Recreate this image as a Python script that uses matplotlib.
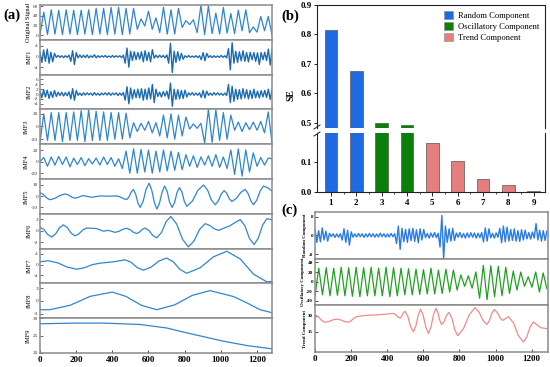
import numpy as np
import matplotlib
matplotlib.use("Agg")
import matplotlib.pyplot as plt
from matplotlib.lines import Line2D
from matplotlib.patches import Patch

plt.rcParams['font.family'] = ['Liberation Serif', 'DejaVu Serif']
plt.rcParams['axes.unicode_minus'] = False

n_samples = 1284

# ---- (a) original signal and IMFs ----
# fast oscillations, read at every peak / trough (about 21 samples apart)
original = [1, 48, 1, 53, 2, 52, 1, 53, 2, 52, 1, 52, 2, 53, 1, 56, 2, 56, 1, 58, 2, 58,
            1, 56, 2, 56, 12, 34, 19, 50, 12, 36, 5, 58, 2, 53, 2, 56, 16, 30, 22, 32,
            5, 62, 1, 61, 3, 46, 2, 58, 4, 45, 3, 52, 9, 53, 5, 17, 6, 39, 9, 39, 0]
imf3 = [-25, 20, -22, 22, -22, 22, -24, 22, -22, 23, -22, 25, -24, 26, -22, 24, -22, 23,
        -22, 22, -20, 22, -20, 21, -18, 6, -8, 5, -6, 8, -10, 6, -15, 18, -18, 20, -20,
        18, -15, 15, -4, 4, -3, 5, -26, 27, -25, 26, -22, 22, -20, 18, -6, 7, -8, 6, -5,
        7, -6, 8, -10, 23, -26]
imf4 = [0, 7, -8, 8, -6, 9, -5, 8, -9, 6, -5, 7, -7, 5, -4, 6, -6, 8, -5, 7, -8, 5,
        -12, 18, -20, 22, -20, 21, -18, 20, -20, 18, -18, 20, -16, 18, -15, 16, -14, 12,
        -8, 10, -10, 8, -6, 10, -8, 12, -10, 8, -12, 20, -22, 22, -25, 20, -18, 15,
        -8, 7, -6, 6, 5]

# noisy IMFs, read every 10 samples
imf1 = [1.5, -2.2, 2.5, -1.8, 2.8, -2.5, 1.6, -2.0, 1.2,
        -0.3, 0.4, -0.3, 0.3, -0.4, 0.3, -0.3, 0.5,
        -1.8, 2.2, -3.0, 1.5,
        -0.5, 0.6, -0.4, 0.5, -0.4,
        0.6, -0.5, 0.3, -0.3, 0.7, -0.5, 0.3, -0.3,
        0.3, -0.2, 0.4, -0.3, 0.2, -0.3, 0.4, -0.3, 0.3, -0.2, 0.3, -0.4, 0.5,
        -2.5, 3.2, -4.0, 2.0,
        -1.5, 1.8, -1.2, 1.5, -1.0,
        1.8, -2.0, 2.2, -1.5, 1.6, -2.0, 2.6,
        -0.6, 0.5, -0.4, 0.5, -0.3, 0.4, -0.5, 0.6,
        -2.5, 5.0, -6.0,
        2.0, -2.2, 1.8, -1.5, 1.2, -1.0,
        0.3, -0.3, 0.4, -0.3, 0.2, -0.3, 0.3, -0.4, 0.3,
        -1.2, 1.5, -1.6, 1.2,
        -0.3, 0.3, -0.4, 0.3, -0.3, 0.2, -0.3, 0.4, -0.3, 0.3, -0.5,
        3.0, -5.0, 5.2, -2.5,
        2.0, -2.2, 1.8, -1.6, 2.2, -1.8, 1.5, -2.0, 1.6,
        -1.2, 1.5, -1.8, 1.4, -3.0, 1.5, -1.2, 1.6, -1.5,
        2.8, -3.2, 2.5]
imf2 = [1.2, -1.5, 1.8, -1.2, 1.6, -1.8, 1.0, -1.4, 1.5, -1.0,
        0.8, -0.6, 0.7, -0.8, 0.6, -0.7, 0.9,
        -2.0, 2.2, -2.5, 1.5,
        -0.5, 0.4, -0.6, 0.5, -0.4, 0.5, -0.3, 0.4, -0.5, 0.6, -0.4, 0.3, -0.5, 0.4,
        -0.3, 0.5, -0.4, 0.6, -0.5, 0.4, -0.3, 0.5, -0.6, 0.4, -0.5, 0.6,
        -2.5, 3.0, -4.0, 2.5,
        -2.0, 1.8, -1.5, 2.0, -1.6,
        2.2, -2.5, 2.0, -2.2, 2.5, -2.0, 4.0, -3.5, 2.0,
        -1.0, 0.8, -1.2, 1.0, -0.8, 1.2,
        -2.0, 4.5, -5.0,
        2.0, -2.2, 1.8, -2.0, 1.5, -1.8, 1.6, -1.2,
        0.5, -0.4, 0.6, -0.5, 0.4, -0.5, 0.5,
        -1.4, 1.5, -1.6, 1.2,
        -0.5, 0.4, -0.5, 0.6, -0.4, 0.5, -0.4, 0.3, -0.5, 0.4, -0.6,
        4.0, -3.5, 3.2, -3.0,
        2.0, -2.2, 1.8, -2.0, 2.2, -1.6, 1.8, -2.0, 1.5, -1.8, 2.0,
        -1.5, 1.2, -1.6, 1.4, -1.2, 1.5, -1.4,
        2.0, -2.2, 1.8]

# slow IMFs, read as (sample, value) points
imf5_t = [0, 18, 37, 55, 83, 112, 140, 158, 176, 194, 209, 225, 240, 286, 332, 380, 425,
          443, 462, 480, 492, 505, 517, 529, 542, 554, 571, 587, 604, 618, 633, 647, 661,
          676, 690, 704, 717, 731, 745, 758, 772, 786, 799, 813, 844, 874, 905, 927, 948,
          970, 986, 1003, 1019, 1033, 1048, 1062, 1087, 1111, 1136, 1151, 1167, 1182, 1200,
          1219, 1237, 1260, 1284]
imf5_v = [3.2, 1.6, -1.6, -3.2, -1.9, 0.7, 2.0, 1.05, -0.85, -1.8, -1.2, -0.1, 0.5, -1.0,
          0.2, 0.0, 0.2, -0.6, -2.2, -3.0, -0.75, 3.75, 6.0, 2.0, -6.0, -10.0, -4.6, 6.1,
          11.5, 5.75, -5.75, -11.5, -6.4, 3.9, 9.0, 4.25, -5.25, -10.0, -5.6, 3.2, 7.6,
          3.45, -4.85, -9.0, -4.25, 5.25, 10.0, 5.6, -3.2, -7.6, -4.45, 1.85, 5.0, 2.6,
          -2.3, -4.7, -2.0, 3.3, 6.0, 2.6, -4.2, -7.6, -3.45, 4.85, 9.0, 7.5, 4.7]
imf6_t = [0, 22, 43, 65, 86, 108, 129, 151, 172, 194, 215, 237, 258, 314, 351, 378, 415,
          437, 458, 480, 498, 517, 535, 550, 566, 581, 603, 624, 646, 672, 698, 724, 756,
          789, 821, 852, 883, 914, 939, 963, 988, 1052, 1080, 1108, 1134, 1159, 1185,
          1208, 1232, 1255, 1284]
imf6_v = [0.6, 0.18, -0.68, -1.1, -0.58, 0.48, 1.0, 0.53, -0.43, -0.9, -0.56, 0.11, 0.45,
          0.35, -0.1, 0.05, -0.3, -0.13, 0.23, 0.4, 0.18, -0.28, -0.5, -0.26, 0.21, 0.45,
          0.03, -0.83, -1.25, -0.33, 1.53, 2.45, 1.14, -1.49, -2.8, -1.8, 0.2, 1.2, 0.91,
          0.34, 0.05, 0.85, 1.4, 1.9, 0.83, -1.33, -2.4, -1.29, 0.94, 2.05, 1.9]
imf7_t = [0, 46, 98, 151, 203, 246, 289, 332, 406, 471, 505, 538, 572, 615, 658, 701,
          738, 775, 812, 886, 960, 1034, 1108, 1182, 1255, 1284]
imf7_v = [1.0, 1.4, 0.61, -0.96, -1.75, -1.19, -0.06, 0.5, 1.0, 1.75, 0.79, -1.14, -2.1,
          -0.98, 1.28, 2.4, 0.99, -1.84, -3.25, -1.21, 2.86, 4.9, 2.08, -3.58, -6.4, -6.3]
imf8_t = [0, 55, 167, 278, 400, 475, 561, 646, 744, 843, 941, 1071, 1150, 1218, 1284]
imf8_v = [-2.1, -2.1, -1.05, 1.05, 2.05, 1.05, -1.05, -2.1, -0.98, 1.28, 2.4, 1.0, -0.6,
          -2.1, -2.8]
imf9_t = [0, 200, 350, 554, 700, 803, 1014, 1150, 1284]
imf9_v = [28.4, 28.6, 28.6, 28.2, 27.2, 25.9, 23.4, 22.1, 21.2]

# ---- (b) sample entropy of each IMF ----
imf_ids = [1, 2, 3, 4, 5, 6, 7, 8, 9]
se_values = [0.815, 0.677, 0.499, 0.492, 0.166, 0.105, 0.044, 0.025, 0.003]
se_groups = ['Random', 'Random', 'Oscillatory', 'Oscillatory',
             'Trend', 'Trend', 'Trend', 'Trend', 'Trend']

# ---- (c) reconstructed components ----
random_comp = [2.5, -3.0, 2.0, -2.8, 3.2, -2.0, 1.8, -2.5,
               0.8, -0.6, 0.7, -0.9, 0.6, -0.8, 0.7,
               -2.0, 2.8, -3.0, 2.2, -4.2, 1.5,
               -0.8, 0.6, -0.7, 0.8, -0.6, 0.7, -0.9, 0.6, -0.7, 0.8, -0.6, 0.7,
               -0.8, 0.6, -0.7, 0.9, -0.6, 0.7, -0.8, 0.6, -0.7, 0.8, -0.6, 0.7,
               -3.5, 4.0, -6.0, 3.0,
               -2.8, 2.5, -3.0, 2.8, -2.2, 3.0, -2.6, 2.4, -3.2, 2.8, -2.0, 2.5,
               -1.0, 0.8, -1.2, 1.0, -0.8, 1.2, -1.0, 0.9,
               -5.0, 8.5, -10.0, 4.0,
               -3.0, 2.8, -2.5, 3.0, -2.2,
               1.0, -0.8, 1.2, -1.0, 0.8, -1.2, 1.0, -0.9, 1.1, -0.8, 1.0, -1.2, 0.9, -1.0, 1.2,
               -2.8, 3.2, -2.5, 2.8,
               -1.0, 0.8, -1.2, 1.0, -0.8,
               3.0, -3.2, 4.0, -2.8, 3.5, -2.5,
               2.5, -2.2, 2.8, -2.5, 2.0, -2.6, 2.4, -2.0, 2.2,
               -1.5, 1.2, -1.6, 1.4, -1.2,
               5.0, -2.0, 2.2, -2.5,
               2.0, -2.2, 1.8]
oscillatory_comp = [-30, 28, -28, 29, -30, 28, -29, 30, -30, 29, -31, 30, -32, 29, -30, 30,
                    -30, 28, -30, 30, -32, 29, -30, 28, -28, 27, -28, 26, -27, 25, -26, 28,
                    -26, 24, -25, 26, -22, 24, -18, 14, -10, 12, -14, 20, -35, 34, -38, 33,
                    -32, 32, -30, 30, -25, 22, -18, 20, -10, 10, -12, 20, -22, 18, -15]
trend_t = [0, 18, 37, 55, 77, 98, 120, 142, 163, 185, 200, 216, 231, 280, 332, 380, 434,
           446, 459, 471, 480, 489, 498, 514, 529, 545, 558, 572, 585, 599, 614, 628, 642,
           656, 670, 680, 691, 701, 715, 728, 742, 758, 774, 790, 822, 854, 886, 908, 929,
           951, 965, 979, 993, 1008, 1024, 1039, 1071, 1099, 1126, 1154, 1172, 1191, 1209,
           1250, 1284]
trend_v = [30.9, 29.2, 25.7, 24.0, 24.75, 26.25, 27.0, 26.25, 24.75, 24.0, 25.35, 28.05,
           29.4, 30.5, 30.9, 31.5, 32.4, 31.3, 29.0, 27.9, 29.55, 32.85, 34.5, 29.6, 19.9,
           15.0, 20.3, 31.0, 36.3, 30.6, 19.2, 13.5, 19.4, 31.3, 37.2, 33.4, 25.7, 21.9,
           24.75, 30.45, 33.3, 27.8, 16.9, 11.4, 18.0, 31.2, 37.8, 33.8, 25.9, 21.9, 25.4,
           32.5, 36.0, 33.45, 28.35, 25.8, 29.4, 23.4, 11.4, 5.4, 10.1, 19.6, 24.3, 18.9, 18.0]


def sample_axis(values):
    return np.linspace(0, n_samples, len(values))


fig = plt.figure(figsize=(5.5, 3.67), dpi=100)
W, H = 550.0, 367.0
frame_gray = '#8a8a8a'
sig_blue = '#2f86cf'
noise_blue = '#1c6bb2'

# ---------------- (a) ----------------
a_panels = [
    ('Original Signal', sample_axis(original), original, (-10, 63), [0, 20, 40, 60]),
    ('IMF1', sample_axis(imf1), imf1, (-6.8, 6.3), [-4, 0, 4]),
    ('IMF2', sample_axis(imf2), imf2, (-6.3, 8), [-4, -2, 0, 2, 4, 6]),
    ('IMF3', sample_axis(imf3), imf3, (-28, 27), [-20, 0, 20]),
    ('IMF4', sample_axis(imf4), imf4, (-30, 30), [-20, 0, 20]),
    ('IMF5', imf5_t, imf5_v, (-15.7, 15.3), [-10, 0, 10]),
    ('IMF6', imf6_t, imf6_v, (-3.1, 2.9), [-2, 0, 2]),
    ('IMF7', imf7_t, imf7_v, (-7, 5.9), [-4, 0, 4]),
    ('IMF8', imf8_t, imf8_v, (-4.1, 4.1), [-3, 0, 3]),
    ('IMF9', imf9_t, imf9_v, (20, 30), [20, 25, 30]),
]
a_left, a_right, a_top, a_bottom = 40, 272, 5, 353
ph = (a_bottom - a_top) / len(a_panels)
for i, (name, x, y, ylim, yticks) in enumerate(a_panels):
    ax = fig.add_axes([a_left / W, 1 - (a_top + (i + 1) * ph) / H,
                       (a_right - a_left) / W, ph / H])
    if name in ('IMF1', 'IMF2'):
        ax.plot(x, y, color=noise_blue, lw=1.0)
    else:
        ax.plot(x, y, color=sig_blue, lw=0.9)
    ax.set_xlim(0, n_samples)
    ax.set_ylim(*ylim)
    ax.set_yticks(yticks)
    ax.set_ylabel(name, fontsize=4.6, labelpad=1.5)
    ax.tick_params(axis='y', direction='in', length=2, width=0.5, labelsize=3.8, pad=1.5,
                   colors='#333333')
    for s in ax.spines.values():
        s.set_color(frame_gray)
        s.set_linewidth(1.1)
    if i < len(a_panels) - 1:
        ax.tick_params(axis='x', bottom=False, labelbottom=False)
    else:
        ax.set_xticks(range(0, 1201, 200))
        ax.tick_params(axis='x', direction='in', length=2, width=0.5, labelsize=6.5, pad=2)
        for lab in ax.get_xticklabels():
            lab.set_fontweight('bold')

fig.text(3 / W, 1 - 15 / H, '(a)', fontsize=10.5, fontweight='bold', va='center')

# ---------------- (b) ----------------
group_colors = {'Random': '#1f6ae0', 'Oscillatory': '#0a800a', 'Trend': '#e57f7f'}
bar_colors = [group_colors[g] for g in se_groups]

b_left, b_right = 317, 545
ax_hi = fig.add_axes([b_left / W, 1 - 128 / H, (b_right - b_left) / W, 123 / H])
ax_lo = fig.add_axes([b_left / W, 1 - 192 / H, (b_right - b_left) / W, 59 / H])
for ax in (ax_hi, ax_lo):
    ax.bar(imf_ids, se_values, width=0.5, color=bar_colors, edgecolor='#555555', linewidth=0.5)
    ax.set_xlim(0.45, 9.45)
    for s in ax.spines.values():
        s.set_color('#222222')
        s.set_linewidth(0.8)
    ax.tick_params(axis='y', direction='out', length=2.5, width=0.6, labelsize=6.5, pad=1.5)
ax_hi.set_ylim(0.483, 0.9)
ax_hi.set_yticks([0.5, 0.6, 0.7, 0.8, 0.9])
ax_hi.spines['bottom'].set_visible(False)
ax_hi.tick_params(axis='x', bottom=False, labelbottom=False)
ax_lo.set_ylim(0, 0.2)
ax_lo.set_yticks([0.0, 0.1])
ax_lo.spines['top'].set_visible(False)
ax_lo.set_xticks(imf_ids)
ax_lo.set_xticks(np.arange(1.5, 9, 1), minor=True)
ax_lo.tick_params(axis='x', direction='out', length=3, width=0.6, labelsize=6.5, pad=2)
ax_lo.tick_params(axis='x', which='minor', direction='out', length=1.5, width=0.5)
for ax in (ax_hi, ax_lo):
    for lab in ax.get_xticklabels() + ax.get_yticklabels():
        lab.set_fontweight('bold')

# break marks on the left spine
for yb in (127, 134):
    fig.add_artist(Line2D([(b_left - 3) / W, (b_left + 3) / W],
                          [1 - (yb + 2) / H, 1 - (yb - 2) / H],
                          color='#222222', lw=0.7))

handles = [Patch(facecolor=group_colors[g], edgecolor='#888888', linewidth=0.4)
           for g in ['Random', 'Oscillatory', 'Trend']]
ax_hi.legend(handles, ['Random Component', 'Oscillatory Component', 'Trend Component'],
             loc='upper right', frameon=False, fontsize=6.2, handlelength=1.1,
             handleheight=1.0, handletextpad=0.5, labelspacing=0.25,
             borderaxespad=0.3, bbox_to_anchor=(1.0, 1.0))

fig.text(291 / W, 1 - 95 / H, 'SE', rotation=90, fontsize=7, fontweight='bold',
         ha='center', va='center')
fig.text(281 / W, 1 - 16 / H, '(b)', fontsize=10.5, fontweight='bold', va='center')

# ---------------- (c) ----------------
c_panels = [
    ('Random Component', sample_axis(random_comp), random_comp, '#2a7be4', (-10, 10), [-8, 0, 8]),
    ('Oscillatory Component', sample_axis(oscillatory_comp), oscillatory_comp, '#22a022',
     (-50, 48), [-40, -20, 0, 20, 40]),
    ('Trend Component', trend_t, trend_v, '#f28a8a', (-4, 40), [15, 30]),
]
c_left, c_right, c_top, c_bottom = 315, 548, 212, 352
ch = (c_bottom - c_top) / len(c_panels)
for i, (name, x, y, color, ylim, yticks) in enumerate(c_panels):
    ax = fig.add_axes([c_left / W, 1 - (c_top + (i + 1) * ch) / H,
                       (c_right - c_left) / W, ch / H])
    ax.plot(x, y, color=color, lw=1.0 if i == 0 else 0.9)
    ax.set_xlim(0, 1290)
    ax.set_ylim(*ylim)
    ax.set_yticks(yticks)
    ax.set_ylabel(name, fontsize=3.5, fontweight='bold', labelpad=1)
    ax.tick_params(axis='y', direction='in', length=2, width=0.5, labelsize=3.6, pad=1.5)
    for lab in ax.get_yticklabels():
        lab.set_fontweight('bold')
    for s in ax.spines.values():
        s.set_color(frame_gray)
        s.set_linewidth(1.1)
    if i < len(c_panels) - 1:
        ax.tick_params(axis='x', bottom=False, labelbottom=False)
    else:
        ax.set_xticks(range(0, 1201, 200))
        ax.tick_params(axis='x', direction='in', length=2, width=0.5, labelsize=6.5, pad=2)
        for lab in ax.get_xticklabels():
            lab.set_fontweight('bold')

fig.text(281 / W, 1 - 210 / H, '(c)', fontsize=10.5, fontweight='bold', va='center')

fig.savefig('out.png', dpi=100)
